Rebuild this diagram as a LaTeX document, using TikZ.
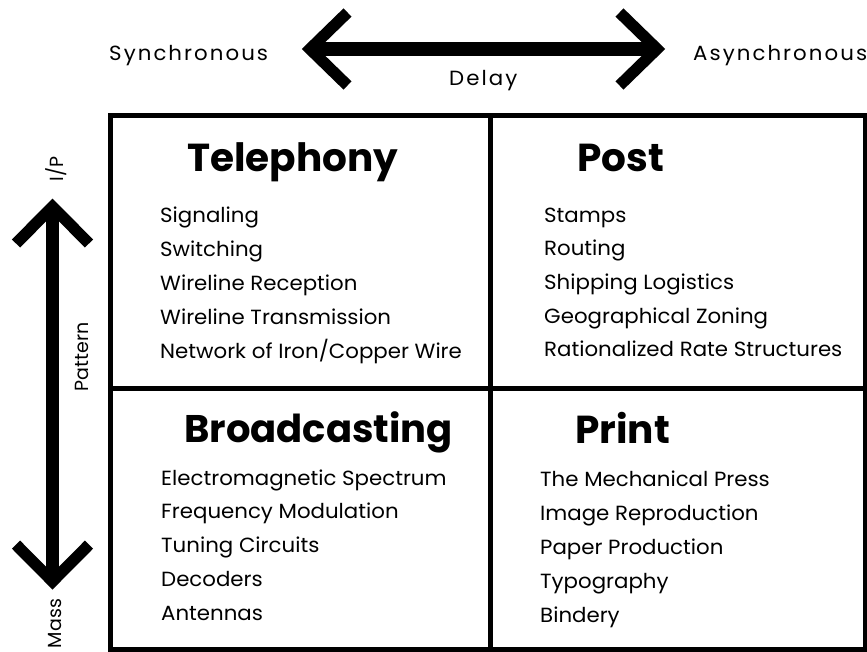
\documentclass[tikz,border=0pt]{standalone}
\usepackage{fontspec}
\setmainfont{Poppins}
\newfontfamily\itemfont[FakeStretch=1.04]{Poppins}
\newfontfamily\spacedfont[FakeStretch=1.04,LetterSpace=10]{Poppins}
\begin{document}
\begin{tikzpicture}[x=1pt,y=-1pt,
  heading/.style={anchor=base west,inner sep=0pt,font=\fontsize{39}{39}\bfseries},
  item/.style={anchor=base west,inner sep=0pt,font=\itemfont\fontsize{20.5}{20.5}\selectfont},
  toplabel/.style={anchor=base west,inner sep=0pt,font=\spacedfont\fontsize{20.5}{20.5}\selectfont},
  sidelabel/.style={anchor=base,rotate=90,inner sep=0pt,font=\fontsize{19}{19}\selectfont},
  grid/.style={line width=5pt,line cap=rect},
  chevron/.style={line width=11.5pt,miter limit=10,line join=miter},
  shaft/.style={line width=14pt}]
\useasboundingbox (0,0) rectangle (867,652);
\fill[white] (0,0) rectangle (867,652);

% horizontal double arrow: delay
\coordinate (dl) at (310,49);
\coordinate (dr) at (657,49);
\draw[shaft] (dl) -- (dr);
\draw[chevron] (347.5,12.5) -- (dl) -- (347.5,85.5);
\draw[chevron] (619.5,12.5) -- (dr) -- (619.5,85.5);

% vertical double arrow: pattern
\coordinate (pu) at (52.5,206.7);
\coordinate (pd) at (52.5,581.4);
\draw[line width=12.5pt] (pu) -- (pd);
\draw[chevron] (16,243.5) -- (pu) -- (89,243.5);
\draw[chevron] (16,544.6) -- (pd) -- (89,544.6);

% axis labels
\node[toplabel] (sync) at (109,61) {Synchronous};
\node[toplabel] (async) at (693,61) {Asynchronous};
\node[toplabel] (delay) at (449,86) {Delay};
\node[sidelabel] (ip) at (63,169) {I/P};
\node[sidelabel] (pattern) at (88,357) {Pattern};
\node[sidelabel] (mass) at (61,623.5) {Mass};

% the four quadrants
\draw[grid] (110,116) rectangle (865,649.5);
\draw[grid] (490,116) -- (490,649.5);
\draw[grid] (110,388.5) -- (865,388.5);

% Telephony
\node[heading] (tel) at (187,172) {Telephony};
\node[item] (t1) at (160,223) {Signaling};
\node[item] (t2) at (160,256.75) {Switching};
\node[item] (t3) at (160,290.5) {Wireline Reception};
\node[item] (t4) at (160,324.25) {Wireline Transmission};
\node[item] (t5) at (160,358) {Network of Iron/Copper Wire};

% Post
\node[heading] (post) at (577,172) {Post};
\node[item] (p1) at (544,222.3) {Stamps};
\node[item] (p2) at (544,255.9) {Routing};
\node[item] (p3) at (544,289.5) {Shipping Logistics};
\node[item] (p4) at (544,323.1) {Geographical Zoning};
\node[item] (p5) at (544,356.7) {Rationalized Rate Structures};

% Broadcasting
\node[heading,font=\fontsize{38.5}{38.5}\bfseries] (broad) at (184,442) {Broadcasting};
\node[item] (b1) at (161,485) {Electromagnetic Spectrum};
\node[item] (b2) at (161,518.75) {Frequency Modulation};
\node[item] (b3) at (161,552.5) {Tuning Circuits};
\node[item] (b4) at (161,586.25) {Decoders};
\node[item] (b5) at (161,620) {Antennas};

% Print
\node[heading] (print) at (575,443) {Print};
\node[item] (r1) at (540,486.5) {The Mechanical Press};
\node[item] (r2) at (540,520.5) {Image Reproduction};
\node[item] (r3) at (540,554.5) {Paper Production};
\node[item] (r4) at (540,588.5) {Typography};
\node[item] (r5) at (540,622.5) {Bindery};
\end{tikzpicture}
\end{document}
